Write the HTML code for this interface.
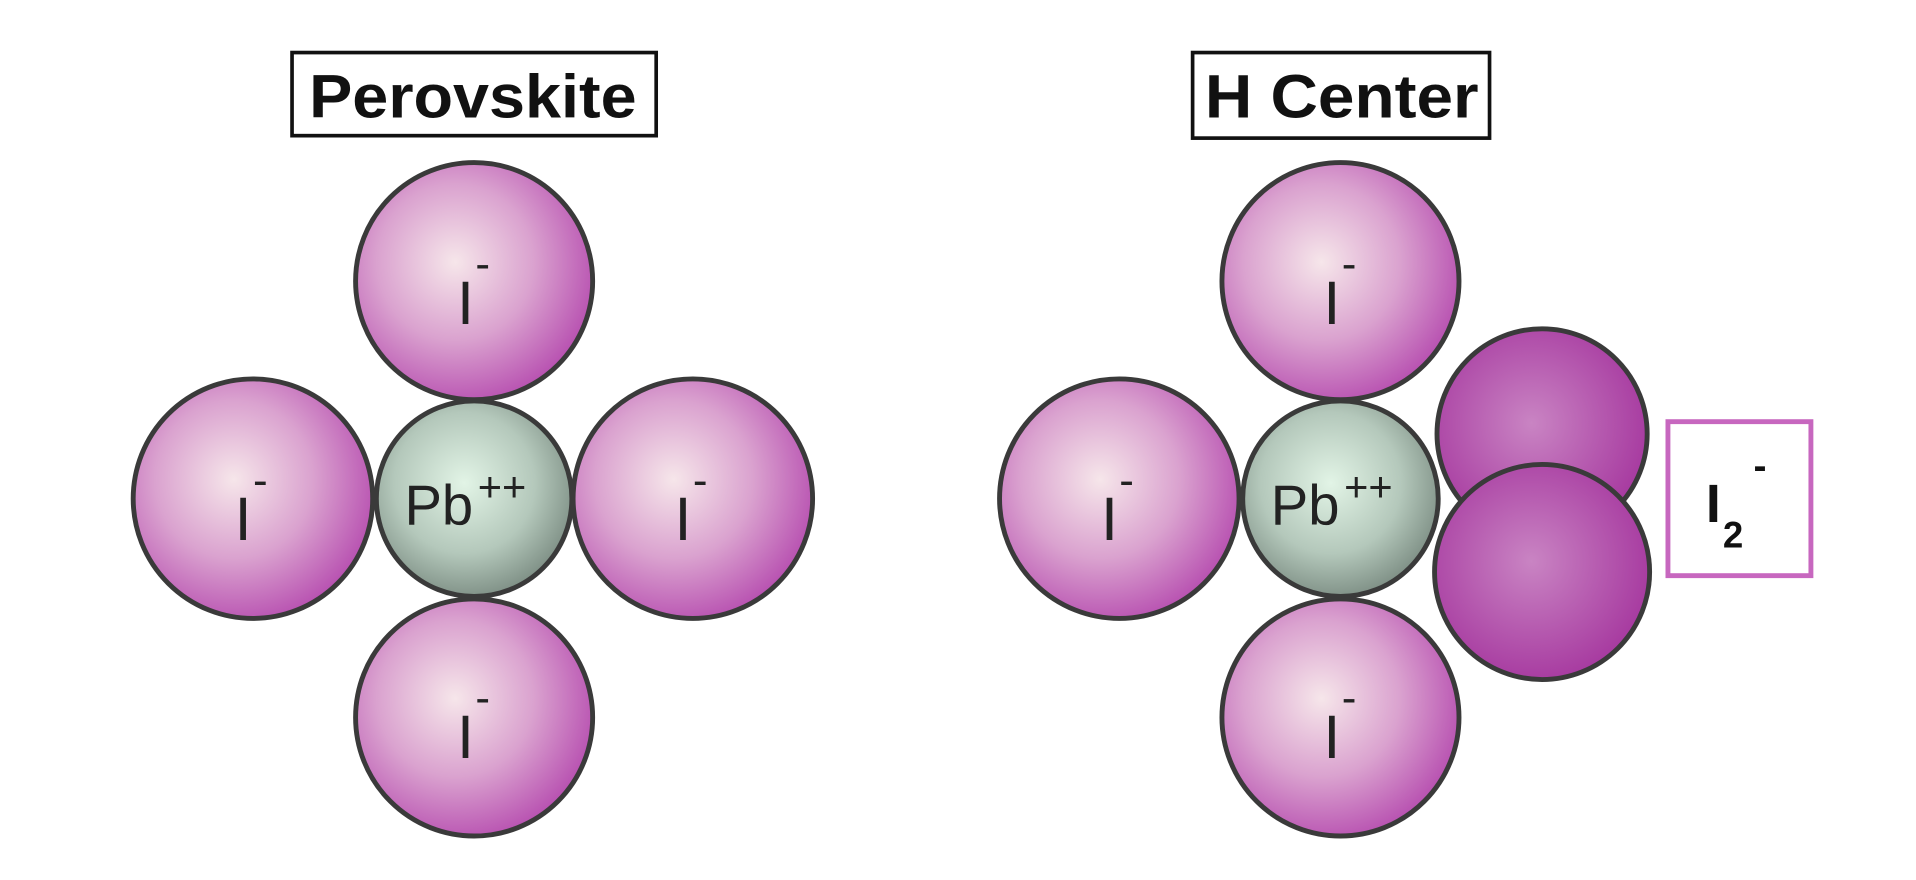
<!DOCTYPE html>
<html><head><meta charset="utf-8"><style>
html,body{margin:0;padding:0;background:#fff;width:1916px;height:880px;overflow:hidden}
svg{display:block}
</style></head><body>
<svg width="1916" height="880" viewBox="0 0 1568 720" preserveAspectRatio="none">
<defs>
<radialGradient id="gI" cx="0.42" cy="0.42" r="0.6">
<stop offset="0" stop-color="#f6e6ea"/><stop offset="0.55" stop-color="#daa2cf"/><stop offset="1" stop-color="#b954b2"/>
</radialGradient>
<radialGradient id="gPb" cx="0.45" cy="0.42" r="0.6">
<stop offset="0" stop-color="#e2f4e6"/><stop offset="0.6" stop-color="#b4c8bb"/><stop offset="1" stop-color="#7d8e84"/>
</radialGradient>
<radialGradient id="gD" cx="0.45" cy="0.45" r="0.6">
<stop offset="0" stop-color="#c984c3"/><stop offset="1" stop-color="#a5369e"/>
</radialGradient>
</defs>
<g stroke="#3a3a3a" stroke-width="4">
<g>
<circle cx="388" cy="230" r="97" fill="url(#gI)"/>
<circle cx="388" cy="587" r="97" fill="url(#gI)"/>
<circle cx="207" cy="408" r="98" fill="url(#gI)"/>
<circle cx="567" cy="408" r="98" fill="url(#gI)"/>
<circle cx="388" cy="408" r="80" fill="url(#gPb)"/>
</g>
<g>
<circle cx="1097" cy="230" r="97" fill="url(#gI)"/>
<circle cx="1097" cy="587" r="97" fill="url(#gI)"/>
<circle cx="916" cy="408" r="98" fill="url(#gI)"/>
<circle cx="1262" cy="355" r="86" fill="url(#gD)"/>
<circle cx="1262" cy="468" r="88" fill="url(#gD)"/>
<circle cx="1097" cy="408" r="80" fill="url(#gPb)"/>
</g>
</g>
<g font-family="Liberation Sans, sans-serif" fill="#222" font-size="50">
<g>
<text x="374" y="265">I</text><text x="389" y="228" font-size="36">-</text>
<text x="374" y="620">I</text><text x="389" y="583" font-size="36">-</text>
<text x="192" y="442">I</text><text x="207" y="405" font-size="36">-</text>
<text x="552" y="442">I</text><text x="567" y="405" font-size="36">-</text>
<text x="331" y="429" font-size="46">Pb</text><text x="391" y="410" font-size="34">++</text>
<text x="1083" y="265">I</text><text x="1098" y="228" font-size="36">-</text>
<text x="1083" y="620">I</text><text x="1098" y="583" font-size="36">-</text>
<text x="901" y="442">I</text><text x="916" y="405" font-size="36">-</text>
<text x="1040" y="429" font-size="46">Pb</text><text x="1100" y="410" font-size="34">++</text>
</g>
</g>
<g>
<rect x="239" y="43" width="298" height="68" fill="none" stroke="#111" stroke-width="3"/>
<text x="253" y="96" textLength="268" lengthAdjust="spacingAndGlyphs" font-family="Liberation Sans, sans-serif" font-weight="bold" font-size="50" fill="#111">Perovskite</text>
</g>
<g>
<rect x="976" y="43" width="243" height="70" fill="none" stroke="#111" stroke-width="3"/>
<text x="986" y="96" textLength="224" lengthAdjust="spacingAndGlyphs" font-family="Liberation Sans, sans-serif" font-weight="bold" font-size="50" fill="#111">H Center</text>
</g>
<g>
<rect x="1365" y="345" width="117" height="126" fill="none" stroke="#c767bf" stroke-width="4"/>
<text x="1396" y="427" font-family="Liberation Sans, sans-serif" font-weight="bold" font-size="44" fill="#111">I</text>
<text x="1410" y="448" font-family="Liberation Sans, sans-serif" font-weight="bold" font-size="30" fill="#111">2</text>
<text x="1435" y="392" font-family="Liberation Sans, sans-serif" font-weight="bold" font-size="32" fill="#111">-</text>
</g>
</svg>
</body></html>
